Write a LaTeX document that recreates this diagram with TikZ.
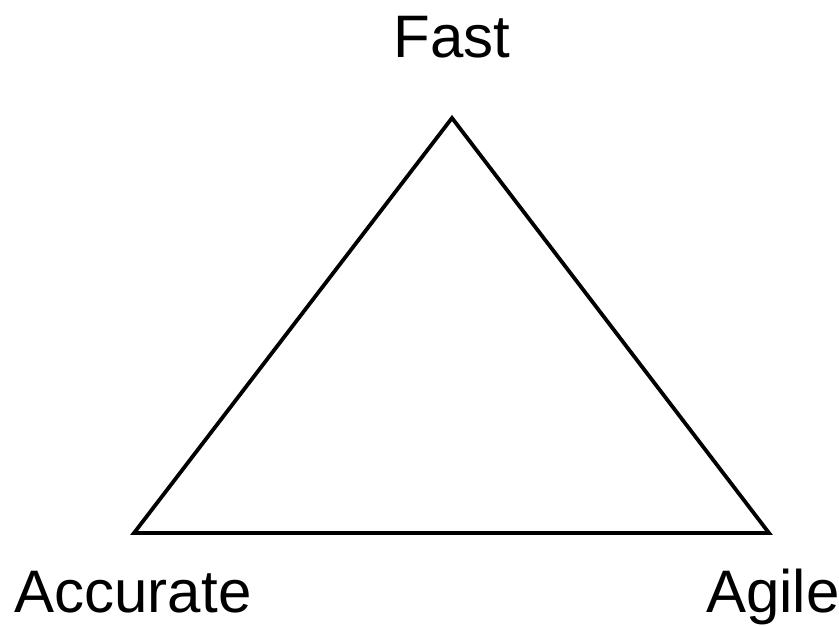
\documentclass[tikz,border=0pt]{standalone}
\usepackage{fontspec}
\setmainfont{Liberation Sans}
\usepackage{tikz}
\usetikzlibrary{positioning}
\tikzset{
  vlab/.style={anchor=base,inner sep=0pt,font=\fontsize{60}{72}\selectfont},
  edge/.style={line width=3.8pt,line join=miter,black},
}

\begin{document}
\begin{tikzpicture}[x=1pt,y=-1pt]
    \useasboundingbox (0,0) rectangle (839,625);
    \coordinate (top) at (452,118);
    \coordinate (bl) at (134,533);
    \coordinate (br) at (769,533);
    \node[vlab] (fast) at (452,57) {Fast};
    \node[vlab] (acc) at (133,612) {Accurate};
    \node[vlab] (agile) at (773,612) {Agile};
    \draw[edge](top)--(br)--(bl)--cycle;
  \end{tikzpicture}
\end{document}
